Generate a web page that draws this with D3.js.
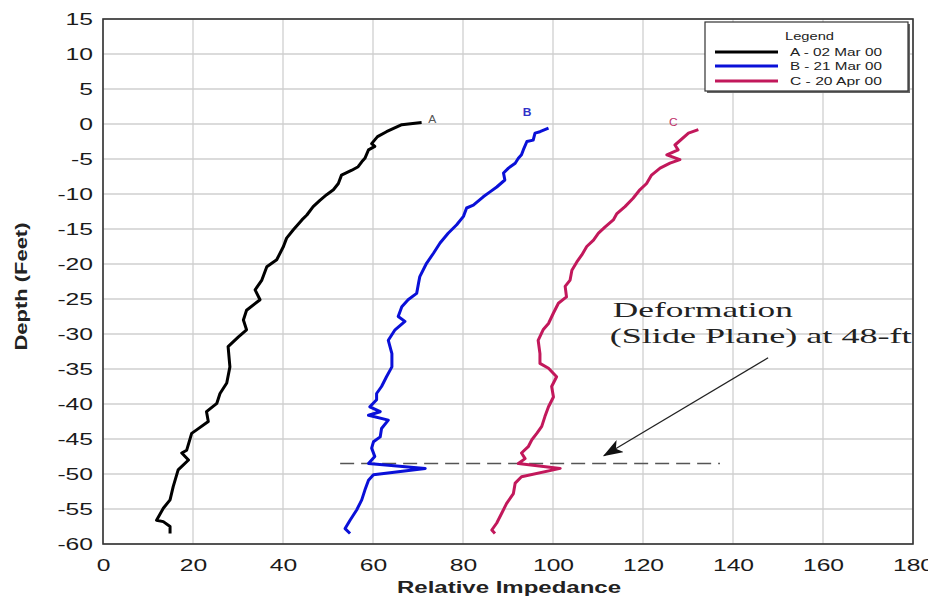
<!DOCTYPE html>
<html>
<head>
<meta charset="utf-8">
<script src="https://cdn.jsdelivr.net/npm/d3@7"></script>
<style>
  html, body { margin: 0; padding: 0; background: #fff; }
  svg { display: block; }
</style>
</head>
<body>
<svg id="chart" width="928" height="599"></svg>
<script>
// ---------------- DATA ----------------
const xTicks = [0, 20, 40, 60, 80, 100, 120, 140, 160, 180];
const yTicks = [15, 10, 5, 0, -5, -10, -15, -20, -25, -30, -35, -40, -45, -50, -55, -60];

const seriesNames = ["A - 02 Mar 00", "B - 21 Mar 00", "C - 20 Apr 00"];
const seriesLabels = ["A", "B", "C"];
const seriesColors = ["#000000", "#0a10d8", "#c2185b"];

// [relative impedance, depth (ft)]
const curveA = [
  [70.8, 0.2], [66.4, -0.1], [63.0, -1.1], [61.0, -1.8], [59.7, -2.8], [60.4, -3.2], [59.0, -3.7],
  [58.2, -4.9], [57.5, -5.4], [56.7, -6.1], [55.3, -6.6], [53.0, -7.3], [52.3, -8.5],
  [51.2, -9.4], [49.7, -10.1], [48.2, -10.9], [46.7, -11.8], [45.3, -13.0], [44.2, -13.7],
  [42.3, -15.1], [40.8, -16.3], [40.1, -17.5], [38.6, -19.4], [36.4, -20.4], [35.3, -22.3],
  [33.8, -23.7], [34.9, -25.1], [31.9, -26.6], [31.2, -28.0], [31.9, -29.4], [30.1, -30.4],
  [27.8, -31.8], [28.2, -34.7], [27.5, -37.0], [26.0, -38.5], [25.3, -39.9], [23.0, -41.1],
  [23.4, -42.5], [20.8, -43.7], [19.7, -44.2], [18.6, -46.6], [17.5, -47.0], [19.0, -48.0],
  [16.7, -49.4], [15.6, -51.8], [14.9, -53.7], [13.4, -54.9], [11.9, -56.6], [13.4, -56.8],
  [14.9, -57.5], [14.9, -58.5]
];
const curveB = [
  [99.0, -0.6], [97.1, -1.1], [96.0, -1.3], [95.6, -2.3], [94.2, -2.5], [93.4, -3.7],
  [93.0, -4.4], [92.3, -4.9], [91.6, -5.6], [90.1, -6.3], [89.0, -7.0], [89.3, -8.0],
  [87.5, -9.0], [86.0, -9.7], [84.5, -10.4], [82.3, -11.6], [80.8, -12.0], [80.1, -13.2],
  [78.6, -14.4], [76.7, -15.6], [74.9, -17.0], [73.4, -18.5], [71.9, -19.9], [70.4, -21.8],
  [70.1, -22.8], [69.7, -24.2], [67.8, -25.1], [66.4, -26.1], [65.6, -27.5], [67.1, -28.2],
  [64.9, -29.4], [63.4, -30.9], [64.2, -32.8], [64.2, -34.7], [63.0, -36.1], [61.9, -37.5],
  [60.8, -38.5], [60.8, -39.4], [59.3, -40.4], [61.6, -41.1], [59.0, -41.6], [63.4, -42.3],
  [61.9, -43.5], [61.6, -44.7], [60.1, -45.4], [59.7, -46.3], [60.4, -47.5], [59.0, -48.5],
  [71.6, -49.2], [60.1, -50.1], [59.0, -50.9], [58.2, -52.3], [57.5, -53.7], [56.4, -55.1],
  [54.9, -56.6], [53.8, -57.8], [54.9, -58.5]
];
const curveC = [
  [132.3, -0.8], [130.1, -1.3], [127.1, -3.0], [127.8, -3.7], [125.3, -4.4], [128.2, -5.1],
  [126.0, -5.6], [123.8, -6.3], [121.9, -7.3], [120.8, -8.5], [119.3, -9.4], [117.8, -10.6],
  [116.0, -11.8], [114.2, -12.8], [113.4, -13.7], [111.6, -14.7], [110.1, -15.6], [109.0, -16.6],
  [107.5, -17.5], [106.4, -18.7], [105.3, -19.7], [104.2, -20.9], [103.8, -22.3], [102.7, -23.2],
  [103.0, -24.7], [101.2, -25.6], [100.1, -27.0], [99.0, -28.5], [97.8, -29.4], [96.7, -30.9],
  [97.1, -32.8], [97.1, -34.2], [99.0, -34.9], [100.8, -36.1], [99.7, -37.5], [100.1, -39.0],
  [99.0, -40.4], [98.2, -41.8], [97.5, -43.2], [96.4, -44.2], [95.3, -45.1], [94.5, -46.1],
  [93.0, -47.0], [93.8, -47.8], [92.3, -48.5], [101.6, -49.2], [93.0, -50.4], [91.6, -51.3],
  [91.2, -52.8], [89.7, -54.2], [88.6, -55.6], [87.5, -57.0], [86.4, -58.0], [87.1, -58.5]
];
const curves = [curveA, curveB, curveC];
// curve end-label anchors [impedance, depth]
const labelPos = [[72.3, 0.15], [93.3, 1.15], [125.8, -0.3]];

// slide plane (dashed) and annotation
const slidePlaneDepth = -48.5;
const slidePlaneExtent = [52.7, 137.1];
const arrowFrom = [147.8, -33.4];
const arrowTo = [111.3, -47.4];
const annotationLines = ["Deformation", "(Slide Plane) at 48-ft"];
const annotationPos = [[113.3, -27.6], [112.6, -31.3]];

// ---------------- CHART ----------------
const svg = d3.select("#chart");
const W = 928, H = 599;
const plot = { left: 103, right: 913, top: 19, bottom: 544 };
const STRETCH = 1.45;

const x = d3.scaleLinear().domain([0, 180]).range([plot.left, plot.right]);
const y = d3.scaleLinear().domain([-60, 15]).range([plot.bottom, plot.top]);

svg.append("rect").attr("width", W).attr("height", H).attr("fill", "#fff");

// grid
const grid = svg.append("g").attr("stroke", "#cfcfcf").attr("stroke-width", 1.3);
grid.selectAll("line.v").data(xTicks).join("line")
  .attr("x1", d => x(d)).attr("x2", d => x(d))
  .attr("y1", plot.top).attr("y2", plot.bottom);
grid.selectAll("line.h").data(yTicks).join("line")
  .attr("y1", d => y(d)).attr("y2", d => y(d))
  .attr("x1", plot.left).attr("x2", plot.right);

// axes (labels only)
function stretchText(sel, factor) {
  sel.each(function () {
    const w = this.getComputedTextLength();
    d3.select(this).attr("textLength", w * factor).attr("lengthAdjust", "spacingAndGlyphs");
  });
}
const xAxis = svg.append("g")
  .attr("transform", `translate(0,${plot.bottom})`)
  .call(d3.axisBottom(x).tickValues(xTicks).tickFormat(d => String(d)).tickSize(0).tickPadding(15));
const yAxis = svg.append("g")
  .attr("transform", `translate(${plot.left},0)`)
  .call(d3.axisLeft(y).tickValues(yTicks).tickFormat(d => String(d)).tickSize(0).tickPadding(10));
[xAxis, yAxis].forEach(g => {
  g.select(".domain").remove();
  g.selectAll("text")
    .attr("font-family", "Liberation Sans, Arial, sans-serif")
    .attr("font-size", 17)
    .attr("fill", "#1a1a1a");
  g.selectAll("text").call(stretchText, STRETCH);
});

// plot border
svg.append("rect")
  .attr("x", plot.left).attr("y", plot.top)
  .attr("width", plot.right - plot.left).attr("height", plot.bottom - plot.top)
  .attr("fill", "none").attr("stroke", "#333").attr("stroke-width", 1.6);

// axis titles
svg.append("text")
  .attr("x", (plot.left + plot.right) / 2 + 1).attr("y", 593)
  .attr("text-anchor", "middle")
  .attr("font-family", "Liberation Sans, Arial, sans-serif")
  .attr("font-size", 16).attr("font-weight", "bold").attr("fill", "#222")
  .text("Relative Impedance")
  .attr("textLength", 224).attr("lengthAdjust", "spacingAndGlyphs");

svg.append("text")
  .attr("transform", `translate(27,${(plot.top + plot.bottom) / 2 + 5}) rotate(-90)`)
  .attr("text-anchor", "middle")
  .attr("font-family", "Liberation Sans, Arial, sans-serif")
  .attr("font-size", 17).attr("font-weight", "bold").attr("fill", "#222")
  .text("Depth (Feet)")
  .attr("textLength", 128).attr("lengthAdjust", "spacingAndGlyphs");

// dashed slide-plane line
svg.append("line")
  .attr("x1", x(slidePlaneExtent[0])).attr("x2", x(slidePlaneExtent[1]))
  .attr("y1", y(slidePlaneDepth)).attr("y2", y(slidePlaneDepth))
  .attr("stroke", "#555").attr("stroke-width", 1.6)
  .attr("stroke-dasharray", "14,7");

// curves
const line = d3.line().x(d => x(d[0])).y(d => y(d[1]));
curves.forEach((c, i) => {
  svg.append("path")
    .datum(c)
    .attr("d", line)
    .attr("fill", "none")
    .attr("stroke", seriesColors[i])
    .attr("stroke-width", 3)
    .attr("stroke-linejoin", "round");
});

// curve labels
const labelColors = ["#555", "#3030c8", "#c0306a"];
seriesLabels.forEach((s, i) => {
  svg.append("text")
    .attr("x", x(labelPos[i][0])).attr("y", y(labelPos[i][1]))
    .attr("font-family", "Liberation Sans, Arial, sans-serif")
    .attr("font-size", 10).attr("font-weight", i === 1 ? "bold" : "normal")
    .attr("fill", labelColors[i])
    .text(s)
    .call(stretchText, 1.2);
});

// arrow
svg.append("defs").append("marker")
  .attr("id", "arrowhead2")
  .attr("viewBox", "0 0 20 14")
  .attr("refX", 19).attr("refY", 7)
  .attr("markerWidth", 20).attr("markerHeight", 14)
  .attr("markerUnits", "userSpaceOnUse")
  .attr("orient", "auto")
  .append("path").attr("d", "M0,0 L20,7 L0,14 L5,7 Z").attr("fill", "#111");
svg.append("line")
  .attr("x1", x(arrowFrom[0])).attr("y1", y(arrowFrom[1]))
  .attr("x2", x(arrowTo[0])).attr("y2", y(arrowTo[1]))
  .attr("stroke", "#222").attr("stroke-width", 1.3)
  .attr("marker-end", "url(#arrowhead2)");

// annotation text
const annoWidths = [180, 302];
annotationLines.forEach((t, i) => {
  svg.append("text")
    .attr("x", x(annotationPos[i][0])).attr("y", y(annotationPos[i][1]))
    .attr("font-family", "Liberation Serif, Times New Roman, serif")
    .attr("font-size", 21).attr("fill", "#222")
    .text(t)
    .attr("textLength", annoWidths[i]).attr("lengthAdjust", "spacingAndGlyphs");
});

// legend
const lg = svg.append("g");
lg.append("rect").attr("x", 707).attr("y", 24).attr("width", 203).attr("height", 69).attr("fill", "#666");
lg.append("rect").attr("x", 705).attr("y", 22).attr("width", 203).attr("height", 69)
  .attr("fill", "#fff").attr("stroke", "#333").attr("stroke-width", 1.2);
lg.append("text").attr("x", 785).attr("y", 40)
  .attr("font-family", "Liberation Sans, Arial, sans-serif").attr("font-size", 10).attr("fill", "#222")
  .text("Legend").attr("textLength", 49).attr("lengthAdjust", "spacingAndGlyphs");
const rowY = [52, 66, 81];
seriesNames.forEach((n, i) => {
  lg.append("line").attr("x1", 715).attr("x2", 778).attr("y1", rowY[i]).attr("y2", rowY[i])
    .attr("stroke", seriesColors[i]).attr("stroke-width", 3.2);
  lg.append("text").attr("x", 790).attr("y", rowY[i] + 4)
    .attr("font-family", "Liberation Sans, Arial, sans-serif").attr("font-size", 11).attr("fill", "#222")
    .text(n).attr("textLength", 92).attr("lengthAdjust", "spacingAndGlyphs");
});
</script>
</body>
</html>
